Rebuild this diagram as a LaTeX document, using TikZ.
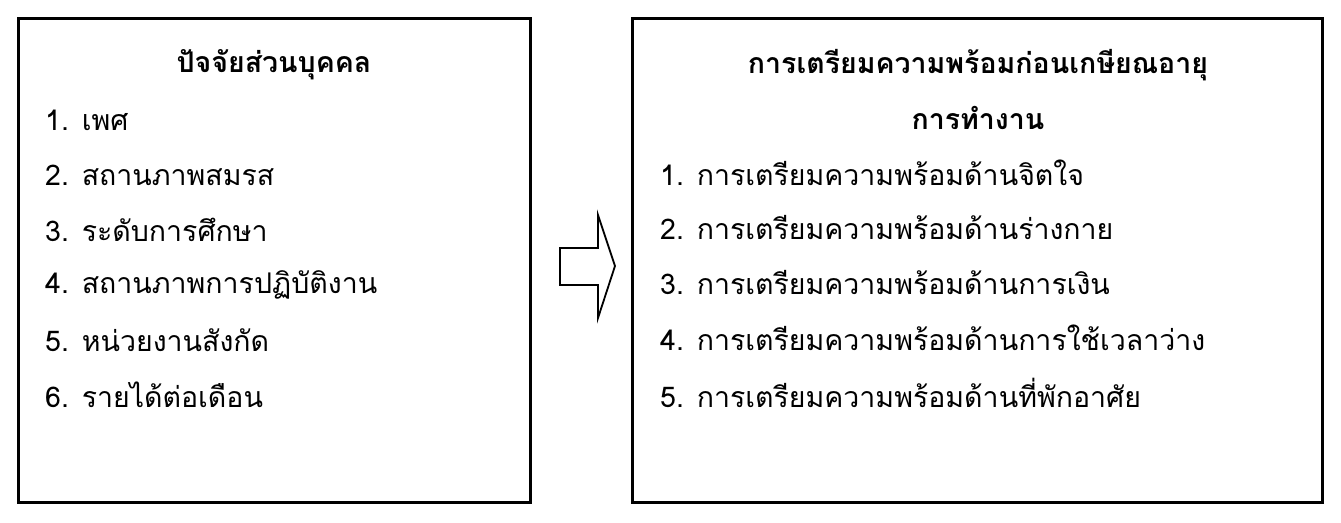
\documentclass[tikz,border=0pt]{standalone}
\usepackage{fontspec}
\newfontfamily\thaifont[Script=Thai]{Loma}
\begin{document}
\begin{tikzpicture}[x=1pt,y=-1pt,
  box/.style={draw,line width=3pt},
  item/.style={anchor=west,inner sep=0pt,font=\thaifont\fontsize{28.5}{32}\selectfont},
  head/.style={anchor=center,inner sep=0pt,font=\thaifont\bfseries\fontsize{28.5}{32}\selectfont}]
\useasboundingbox (0,0) rectangle (1341,522);
\draw[box] (18,18) rectangle (530,502);
\draw[box] (632,18) rectangle (1322,502);
\draw[line width=1.8pt,line join=miter] (560,248) -- (598,248) -- (598,215) -- (615,266) -- (598,318) -- (598,285) -- (560,285) -- cycle;
\node[head] (lt) at (274,65) {ปัจจัยส่วนบุคคล};
\node[item] (l1) at (45,120) {1. เพศ};
\node[item] (l2) at (45,175) {2. สถานภาพสมรส};
\node[item] (l3) at (45,230) {3. ระดับการศึกษา};
\node[item] (l4) at (45,285) {4. สถานภาพการปฏิบัติงาน};
\node[item] (l5) at (45,340) {5. หน่วยงานสังกัด};
\node[item] (l6) at (45,395) {6. รายได้ต่อเดือน};
\node[head] (rt1) at (978,65) {การเตรียมความพร้อมก่อนเกษียณอายุ};
\node[head] (rt2) at (978,118) {การทำงาน};
\node[item] (r1) at (660,173) {1. การเตรียมความพร้อมด้านจิตใจ};
\node[item] (r2) at (660,228) {2. การเตรียมความพร้อมด้านร่างกาย};
\node[item] (r3) at (660,283) {3. การเตรียมความพร้อมด้านการเงิน};
\node[item] (r4) at (660,338) {4. การเตรียมความพร้อมด้านการใช้เวลาว่าง};
\node[item] (r5) at (660,393) {5. การเตรียมความพร้อมด้านที่พักอาศัย};
\end{tikzpicture}
\end{document}
